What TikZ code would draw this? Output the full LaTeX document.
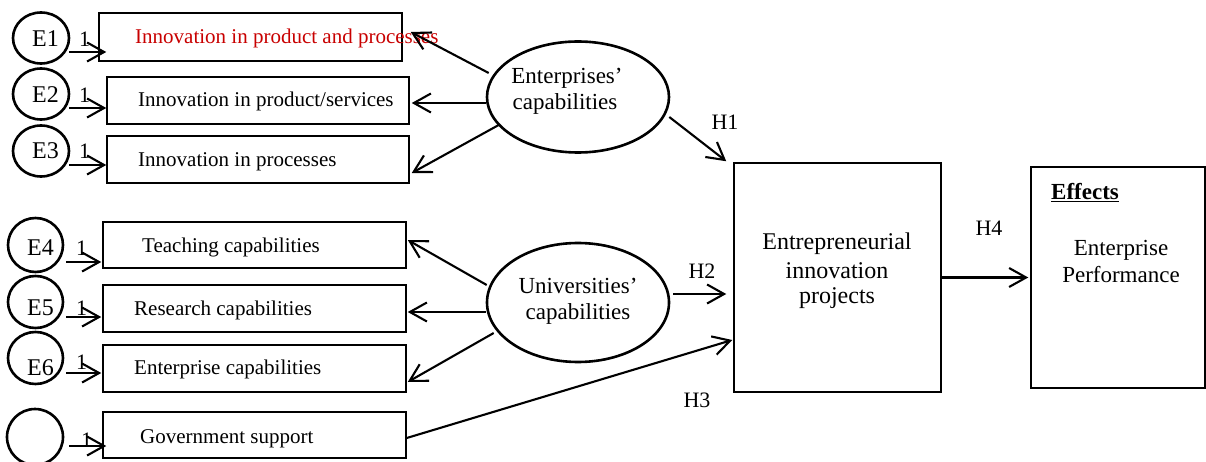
\documentclass[tikz,border=0pt]{standalone}
\usepackage{fontspec}
\setmainfont{Liberation Serif}
\usetikzlibrary{arrows.meta,calc,shapes.geometric}
\definecolor{itemred}{RGB}{200,0,0}
\begin{document}
\begin{tikzpicture}[x=1pt,y=-1pt,
  box/.style={draw,line width=1.5pt,rectangle,inner sep=0pt,minimum width=303pt},
  err/.style={draw,line width=2.6pt,ellipse,inner sep=0pt,minimum width=55pt,minimum height=52pt},
  latent/.style={draw,line width=2.6pt,ellipse,inner sep=0pt,minimum width=182pt},
  arr/.style={line width=2.1pt,-{Straight Barb[length=17pt,width=19pt,line width=2.1pt]}},
  boxtxt/.style={anchor=base west,inner sep=0pt,font=\fontsize{21}{25}\selectfont},
  errtxt/.style={anchor=base west,inner sep=0pt,font=\fontsize{24}{28}\selectfont},
  onetxt/.style={anchor=base west,inner sep=0pt,font=\fontsize{22}{26}\selectfont},
  bigtxt/.style={anchor=base,inner sep=0pt,font=\fontsize{23}{27}\selectfont},
  htxt/.style={anchor=base,inner sep=0pt,font=\fontsize{22}{26}\selectfont}]
\useasboundingbox (0,0) rectangle (1206,462);

% indicator boxes
\node[box,minimum height=48pt] (b1) at (250.5,37) {};
\node[box,minimum width=302pt,minimum height=47pt] (b2) at (258,100.5) {};
\node[box,minimum width=302pt,minimum height=47pt] (b3) at (258,159.5) {};
\node[box,minimum height=46pt] (b4) at (254.5,245) {};
\node[box,minimum height=47pt] (b5) at (254.5,308.5) {};
\node[box,minimum height=47pt] (b6) at (254.5,368.5) {};
\node[box,minimum height=46pt] (b7) at (254.5,435) {};

\node[boxtxt,text=itemred] (t1) at (135,44) {Innovation in product and processes};
\node[boxtxt] (t2) at (138,107) {Innovation in product/services};
\node[boxtxt] (t3) at (138,167) {Innovation in processes};
\node[boxtxt] (t4) at (142,252) {Teaching capabilities};
\node[boxtxt] (t5) at (134,315) {Research capabilities};
\node[boxtxt] (t6) at (134,374) {Enterprise capabilities};
\node[boxtxt] (t7) at (140,443) {Government support};

% error terms
\node[err,minimum width=56pt,minimum height=51pt] (e1) at (41,38) {};
\node[err,minimum width=56pt,minimum height=51pt] (e2) at (41,94) {};
\node[err,minimum width=56pt,minimum height=51pt] (e3) at (41,151) {};
\node[err,minimum height=54pt] (e4) at (35.5,245) {};
\node[err] (e5) at (35.5,302) {};
\node[err] (e6) at (35.5,358) {};
\node[err,minimum width=56pt,minimum height=56pt] (e7) at (35,437) {};

\node[errtxt] (n1) at (32,47) {E1};
\node[errtxt] (n2) at (32,103) {E2};
\node[errtxt] (n3) at (32,159) {E3};
\node[errtxt] (n4) at (27,255) {E4};
\node[errtxt] (n5) at (27,315) {E5};
\node[errtxt] (n6) at (27,375) {E6};

\node[onetxt] (l1) at (79,47) {1};
\node[onetxt] (l2) at (79,103) {1};
\node[onetxt] (l3) at (79,159) {1};
\node[onetxt] (l4) at (76,255) {1};
\node[onetxt] (l5) at (76,315) {1};
\node[onetxt] (l6) at (76,369) {1};
\node[onetxt] (l7) at (81,447) {1};

\draw[arr] ($(e1.east)+(-1,14)$) -- ($(b1.west)+(8,15)$);
\draw[arr] ($(e2.east)+(-1,14)$) -- ($(b2.west)+(0,7.5)$);
\draw[arr] ($(e3.east)+(-1,14)$) -- ($(b3.west)+(0,5.5)$);
\draw[arr] ($(e4.east)+(2,17)$) -- ($(b4.west)+(-1,17)$);
\draw[arr] ($(e5.east)+(2,15)$) -- ($(b5.west)+(-1,8.5)$);
\draw[arr] ($(e6.east)+(2,15)$) -- ($(b6.west)+(-1,4.5)$);
\draw[arr] ($(e7.east)+(5,9)$) -- ($(b7.west)+(4,11)$);

% latent constructs
\node[latent,minimum height=111pt] (ent) at (578,97) {};
\node[latent,minimum height=119pt] (uni) at (578,302.5) {};
\node[bigtxt] (ent1) at (567,84) {Enterprises’};
\node[bigtxt] (ent2) at (565,110) {capabilities};
\node[bigtxt] (uni1) at (578,293) {Universities’};
\node[bigtxt] (uni2) at (578,319) {capabilities};

\draw[arr] ($(ent.west)+(3,-24)$) -- ($(b1.east)+(8,-5)$);
\draw[arr] ($(ent.west)+(0,6)$) -- ($(b2.east)+(2,2.5)$);
\draw[arr] ($(ent.west)+(13,28)$) -- ($(b3.east)+(2,13.5)$);
\draw[arr] ($(uni.west)+(1,-17.5)$) -- ($(b4.east)+(1,-5)$);
\draw[arr] ($(uni.west)+(0,9.5)$) -- ($(b5.east)+(1,3.5)$);
\draw[arr] ($(uni.west)+(8,30.5)$) -- ($(b6.east)+(1,13.5)$);

% central project box and effects
\node[box,minimum width=207pt,minimum height=229pt] (proj) at (837.5,277.5) {};
\node[bigtxt,font=\fontsize{24}{28}\selectfont] (p1) at (837,250) {Entrepreneurial};
\node[bigtxt,font=\fontsize{24}{28}\selectfont] (p2) at (837,278) {innovation};
\node[bigtxt,font=\fontsize{24}{28}\selectfont] (p3) at (837,303) {projects};

\node[box,minimum width=174pt,minimum height=221pt] (eff) at (1118,277.5) {};
\node[anchor=base west,inner sep=0pt,font=\fontsize{23}{27}\selectfont\bfseries] (efh) at (1051,200) {\underline{Effects}};
\node[bigtxt] (ef1) at (1121,255) {Enterprise};
\node[bigtxt] (ef2) at (1121,282) {Performance};

% hypotheses
\draw[arr] ($(ent.east)+(-1,20)$) -- ($(proj.north west)+(-7,-1)$);
\draw[arr] ($(uni.east)+(3,-8.5)$) -- ($(proj.west)+(-7,16.5)$);
\draw[arr] ($(b7.east)+(0,3)$) -- ($(proj.west)+(-1,62.5)$);
\draw[arr] (proj.east) -- ($(eff.west)+(-2,0)$);

\node[htxt] (h1) at (725,130) {H1};
\node[htxt] (h2) at (702,278) {H2};
\node[htxt] (h3) at (697,407) {H3};
\node[htxt] (h4) at (989,236) {H4};
\end{tikzpicture}
\end{document}
